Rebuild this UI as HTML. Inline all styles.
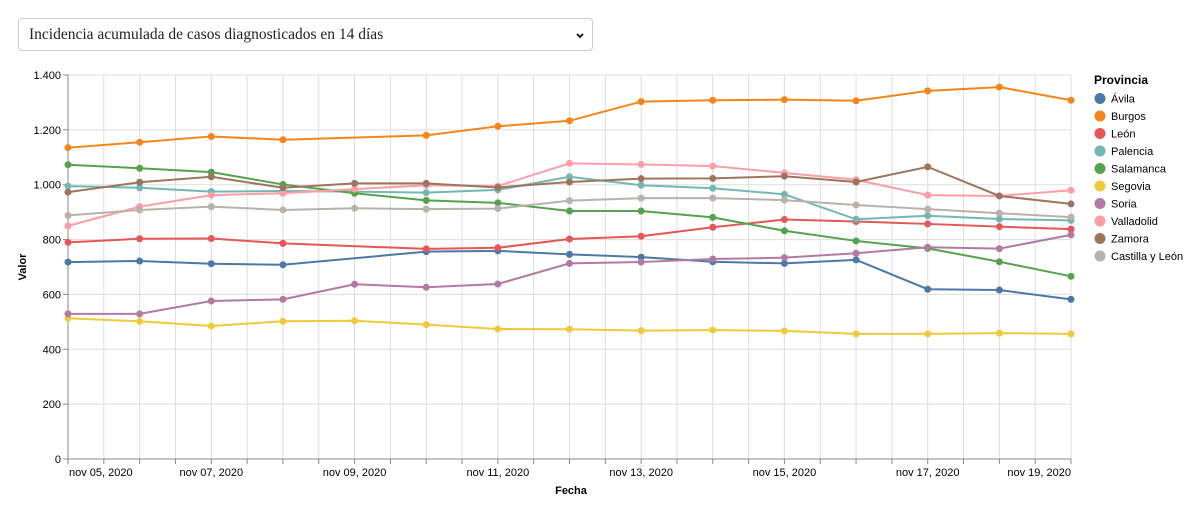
<!DOCTYPE html>
<html><head><meta charset="utf-8"><style>
body{margin:0;width:1200px;height:510px;background:#fff;overflow:hidden;font-family:"Liberation Sans",sans-serif}
#sel{position:absolute;left:18px;top:18px;width:575px;height:33px;border:1px solid #ccc;border-radius:4px;box-sizing:border-box;font-family:"Liberation Serif",serif;font-size:15.5px;color:#222;line-height:31px;padding-left:10px}
#sel svg{position:absolute;right:6px;top:12px}
#chart{position:absolute;left:0;top:0}
</style></head><body>
<div id="sel">Incidencia acumulada de casos diagnosticados en 14 días<svg width="12" height="10" viewBox="0 0 12 10"><path d="M3 3 L6 6 L9 3" stroke="#222" stroke-width="2" fill="none"/></svg></div>
<svg id="chart" width="1200" height="510"></svg>
<script>
const dates=["nov 05, 2020","nov 06, 2020","nov 07, 2020","nov 08, 2020","nov 09, 2020","nov 10, 2020","nov 11, 2020","nov 12, 2020","nov 13, 2020","nov 14, 2020","nov 15, 2020","nov 16, 2020","nov 17, 2020","nov 18, 2020","nov 19, 2020"];
const provinces=["Ávila","Burgos","León","Palencia","Salamanca","Segovia","Soria","Valladolid","Zamora","Castilla y León"];
const colors=["#4c78a8","#f58518","#e45756","#72b7b2","#54a24b","#eeca3b","#b279a2","#ff9da6","#9d755d","#bab0ac"];
const avila=[718,722,712,708,null,756,759,746,736,719,713,726,619,616,582];
const burgos=[1135,1155,1176,1164,null,1180,1213,1233,1303,1308,1310,1306,1342,1356,1308];
const leon=[790,803,804,786,null,766,770,802,812,845,873,866,857,847,838];
const palencia=[995,989,975,977,975,971,981,1029,998,987,965,874,887,875,870];
const salamanca=[1073,1060,1046,1001,969,943,934,904,904,881,832,795,768,719,666];
const segovia=[513,502,485,502,504,490,474,473,468,470,467,456,456,459,456];
const soria=[529,529,576,582,637,626,638,713,718,729,734,750,772,767,817];
const valladolid=[850,920,962,969,984,998,995,1078,1074,1068,1043,1018,962,959,980];
const zamora=[973,1009,1029,989,1005,1005,990,1010,1022,1023,1031,1010,1065,959,930];
const castilla=[888,908,920,908,914,911,913,942,951,951,944,926,911,896,882];
const series=[avila,burgos,leon,palencia,salamanca,segovia,soria,valladolid,zamora,castilla];
const yTicks=[0,200,400,600,800,1000,1200,1400];
const yTickLabels=["0","200","400","600","800","1.000","1.200","1.400"];
const NS="http://www.w3.org/2000/svg";
const svg=document.getElementById('chart');
const X0=68,X1=1071,Y0=459,Y1=75,YMAX=1400;
const step=(X1-X0)/(dates.length-1);
function x(i){return X0+i*step;}
function y(v){return Y0-(v/YMAX)*(Y0-Y1);}
function el(t,a,p){const e=document.createElementNS(NS,t);for(const k in a)e.setAttribute(k,a[k]);(p||svg).appendChild(e);return e;}
const grid=el('g',{});


for(let k=0;k<=(dates.length-1)*2;k++){const gx=X0+k*step/2;el('line',{x1:gx,x2:gx,y1:Y1,y2:Y0,stroke:'#ddd'},grid);el('line',{x1:gx,x2:gx,y1:Y0,y2:Y0+5,stroke:'#888'},grid);}
yTicks.forEach((t,i)=>{el('line',{x1:X0,x2:X1,y1:y(t),y2:y(t),stroke:'#ddd'},grid);el('line',{x1:X0-5,x2:X0,y1:y(t),y2:y(t),stroke:'#888'},grid);
const tx=el('text',{x:X0-7,y:y(t)+4,'text-anchor':'end','font-size':11,fill:'#000'});tx.textContent=yTickLabels[i];

});
el('line',{x1:X0,x2:X0,y1:Y1,y2:Y0,stroke:'#888'});
el('line',{x1:X0,x2:X1,y1:Y0,y2:Y0,stroke:'#888'});
dates.forEach((d,i)=>{if(i%2)return;let anchor='middle',px=x(i);if(i==0){anchor='start';px+=1;}if(i==dates.length-1){anchor='end';}
const t=el('text',{x:px,y:476,'text-anchor':anchor,'font-size':11,fill:'#000'});t.textContent=d;

});
const yt=el('text',{x:0,y:0,transform:'translate(26,267) rotate(-90)','text-anchor':'middle','font-size':11,'font-weight':'bold'});yt.textContent='Valor';


const xt=el('text',{x:571,y:494,'text-anchor':'middle','font-size':11,'font-weight':'bold'});xt.textContent='Fecha';


series.forEach((s,si)=>{const g=el('g',{});


let d='';s.forEach((v,i)=>{if(v==null)return;d+=(d?'L':'M')+x(i)+' '+y(v);});
el('path',{d:d,fill:'none',stroke:colors[si],'stroke-width':2},g);
s.forEach((v,i)=>{if(v==null)return;const c=el('circle',{cx:x(i),cy:y(v),r:3.5,fill:colors[si]},g);

});});
const lg=el('g',{});


const lt=el('text',{x:1094,y:84,'font-size':12,'font-weight':'bold'},lg);lt.textContent='Provincia';
provinces.forEach((p,i)=>{const cy=98.5+i*17.5;
const e=el('g',{},lg);


el('circle',{cx:1100,cy:cy,r:5.5,fill:colors[i]},e);
const t=el('text',{x:1111,y:cy+4,'font-size':11},e);t.textContent=p;});
</script>
</body></html>
